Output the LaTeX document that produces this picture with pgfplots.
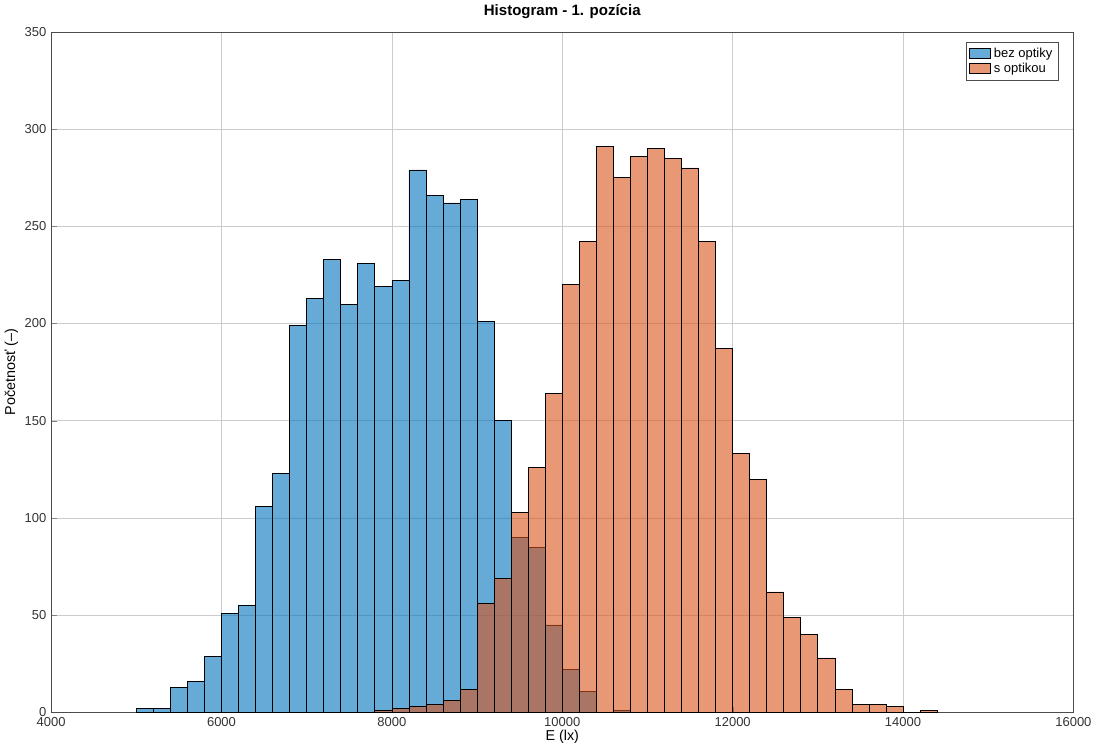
\documentclass[border=0pt]{standalone}
\usepackage{pgfplots}
\pgfplotsset{compat=1.18}
\usepackage{fontspec}
\setmainfont{Liberation Sans}
\definecolor{mblue}{rgb}{0,0.447,0.741}
\definecolor{morange}{rgb}{0.85,0.325,0.098}
\begin{document}
\begin{tikzpicture}
\begin{axis}[
  width=748pt, height=498pt, scale only axis,
  xmin=4000, xmax=16000, ymin=0, ymax=350,
  xtick={4000,6000,...,16000}, ytick={0,50,...,350},
  scaled ticks=false,
  /pgf/number format/assume math mode=true,
  /pgf/number format/1000 sep={},
  tick label style={font=\fontsize{9.5}{11}\selectfont, color=black!80},
  grid=major, grid style={gray!40, line width=0.4pt},
  axis line style={black!70}, tick align=inside,
  xtick pos=bottom, ytick pos=left,
  title={\bfseries Histogram - 1. pozícia},
  title style={font=\fontsize{11}{13}\selectfont, yshift=0pt},
  xlabel={E (lx)}, ylabel={Početnosť (–)},
  label style={font=\fontsize{10.5}{12}\selectfont},
  xlabel style={yshift=4pt}, ylabel style={yshift=-2pt},
  legend style={at={(0.985,0.985)}, anchor=north east, font=\fontsize{9.5}{11}\selectfont, draw=black!70, inner sep=2pt, row sep=-1pt},
  legend cell align=left,
  legend image code/.code={\draw[#1, fill opacity=0.6] (0cm,-0.12cm) rectangle (0.55cm,0.14cm);},
]
\addplot[ybar interval, fill=mblue, fill opacity=0.6, draw=black, line width=0.5pt] coordinates {
(5000,2)(5200,2)(5400,13)(5600,16)(5800,29)(6000,51)(6200,55)(6400,106)(6600,123)(6800,199)(7000,213)(7200,233)(7400,210)(7600,231)(7800,219)(8000,222)(8200,279)(8400,266)(8600,262)(8800,264)(9000,201)(9200,150)(9400,90)(9600,85)(9800,45)(10000,22)(10200,11)(10400,0)(10600,1)(10800,1)};
\addlegendentry{bez optiky}
\addplot[ybar interval, fill=morange, fill opacity=0.6, draw=black, line width=0.5pt] coordinates {
(7800,1)(8000,2)(8200,3)(8400,4)(8600,6)(8800,12)(9000,56)(9200,69)(9400,103)(9600,126)(9800,164)(10000,220)(10200,242)(10400,291)(10600,275)(10800,286)(11000,290)(11200,285)(11400,280)(11600,242)(11800,187)(12000,133)(12200,120)(12400,62)(12600,49)(12800,40)(13000,28)(13200,12)(13400,4)(13600,4)(13800,3)(14000,0)(14200,1)(14400,1)};
\addlegendentry{s optikou}
\end{axis}
\end{tikzpicture}
\end{document}
